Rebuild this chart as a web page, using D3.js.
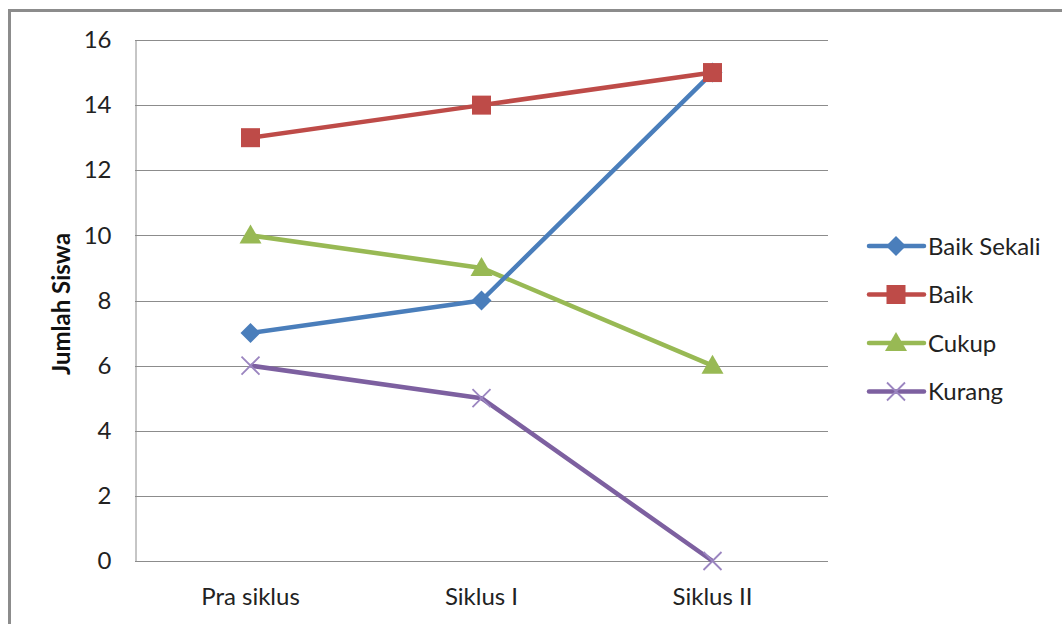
<!DOCTYPE html>
<html>
<head>
<meta charset="utf-8">
<script src="https://cdn.jsdelivr.net/npm/d3@7"></script>
<style>
  body { margin: 0; background: #fff; }
  svg { font-family: Lato, "Open Sans", sans-serif; }
</style>
</head>
<body>
<svg id="canvas" width="1062" height="624"></svg>
<script>
const categories = ["Pra siklus", "Siklus I", "Siklus II"]
const seriesNames = ["Baik Sekali", "Baik", "Cukup", "Kurang"]
const baikSekali = [7, 8, 15]
const baik = [13, 14, 15]
const cukup = [10, 9, 6]
const kurang = [6, 5, 0]
const yTicks = [0, 2, 4, 6, 8, 10, 12, 14, 16]

const colors = ["#4a7ebb", "#be4b48", "#98b954", "#7d60a0"]
const shapes = ["diamond", "square", "triangle", "cross"]
const series = seriesNames.map((name, i) => ({
  name: name,
  values: [baikSekali, baik, cukup, kurang][i],
  color: colors[i],
  shape: shapes[i]
}))

const canvas = d3.select("#canvas")

// outer chart border
canvas.append("rect")
  .attr("x", 9.5).attr("y", 10.5)
  .attr("width", 1100).attr("height", 700)
  .attr("fill", "none")
  .attr("stroke", "#8c8c8c")
  .attr("stroke-width", 3)

const plotLeft = 135, plotRight = 828, plotTop = 40, plotBottom = 561

const x = d3.scaleBand().domain(categories).range([plotLeft, plotRight])
const y = d3.scaleLinear().domain([0, 16]).range([plotBottom, plotTop])

// gridlines
canvas.append("g")
  .selectAll("line")
  .data(yTicks)
  .enter()
  .append("line")
  .attr("x1", plotLeft).attr("x2", plotRight)
  .attr("y1", d => Math.round(y(d)) + 0.5)
  .attr("y2", d => Math.round(y(d)) + 0.5)
  .attr("stroke", "#8c8c8c")
  .attr("stroke-width", 1)

// y axis
const yAxis = canvas.append("g")
  .attr("transform", `translate(${plotLeft + 0.5},0)`)
  .call(d3.axisLeft(y).tickValues(yTicks).tickSize(0).tickPadding(24))
yAxis.select(".domain").attr("stroke", "#8c8c8c")
yAxis.selectAll("text")
  .attr("font-size", 24)
  .attr("fill", "#222")
  .attr("font-family", "Lato, sans-serif")

// x axis labels
const xAxis = canvas.append("g")
  .attr("transform", `translate(0,${plotBottom})`)
  .call(d3.axisBottom(x).tickSize(0).tickPadding(27))
xAxis.select(".domain").remove()
xAxis.selectAll("text")
  .attr("font-size", 24)
  .attr("fill", "#222")
  .attr("font-family", "Lato, sans-serif")

// y title
canvas.append("text")
  .attr("transform", "translate(70,304) rotate(-90)")
  .attr("text-anchor", "middle")
  .attr("font-size", 24)
  .attr("font-weight", "bold")
  .attr("fill", "#111")
  .text("Jumlah Siswa")

const cx = c => x(c) + x.bandwidth() / 2

const line = d3.line()
  .x((d, i) => cx(categories[i]))
  .y(d => y(d))

// lines (later series underneath)
canvas.append("g")
  .selectAll("path")
  .data(series.slice().reverse())
  .enter()
  .append("path")
  .attr("d", s => line(s.values))
  .attr("fill", "none")
  .attr("stroke", s => s.color)
  .attr("stroke-width", 4.5)
  .attr("stroke-linejoin", "round")

const drawMarker = (g, shape, color, px, py) => {
  if (shape === "diamond") {
    g.append("path")
      .attr("d", `M${px},${py - 10}L${px + 10},${py}L${px},${py + 10}L${px - 10},${py}Z`)
      .attr("fill", color)
  } else if (shape === "square") {
    g.append("rect")
      .attr("x", px - 9.5).attr("y", py - 9.5)
      .attr("width", 19).attr("height", 19)
      .attr("fill", color)
  } else if (shape === "triangle") {
    g.append("path")
      .attr("d", `M${px},${py - 11}L${px + 11},${py + 8}L${px - 11},${py + 8}Z`)
      .attr("fill", color)
  } else {
    g.append("path")
      .attr("d", `M${px - 9},${py - 9}L${px + 9},${py + 9}M${px - 9},${py + 9}L${px + 9},${py - 9}`)
      .attr("stroke", "#9b85c0")
      .attr("stroke-width", 1.8)
  }
}

const markers = canvas.append("g")
series.forEach(s => {
  s.values.forEach((v, i) => drawMarker(markers, s.shape, s.color, cx(categories[i]), y(v)))
})

// legend
const legend = canvas.append("g")
series.forEach((s, i) => {
  const ly = 246 + i * 48.5
  legend.append("line")
    .attr("x1", 869).attr("x2", 924)
    .attr("y1", ly).attr("y2", ly)
    .attr("stroke", s.color)
    .attr("stroke-width", 4.5)
    .attr("stroke-linecap", "round")
  drawMarker(legend, s.shape, s.color, 896, ly)
  legend.append("text")
    .attr("x", 928).attr("y", ly + 8.5)
    .attr("font-size", 24)
    .attr("fill", "#222")
    .text(s.name)
})
</script>
</body>
</html>
